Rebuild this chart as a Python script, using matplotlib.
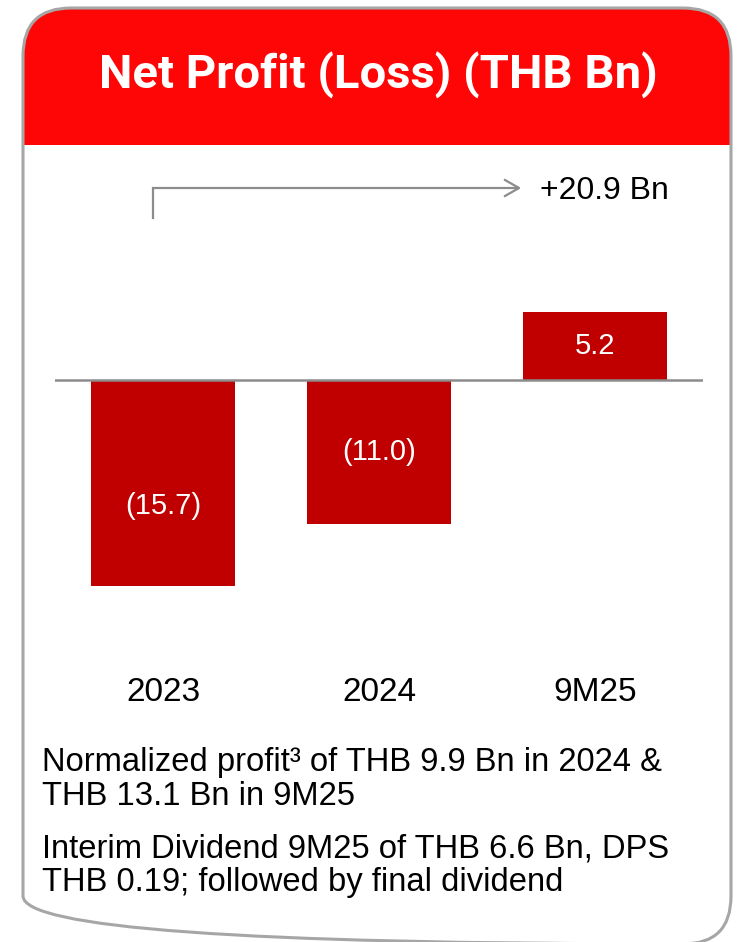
import matplotlib.pyplot as plt
from matplotlib.patches import FancyBboxPatch, Rectangle

# data
periods = ['2023', '2024', '9M25']
net_profit = [-15.7, -11.0, 5.2]
bar_labels = ['(15.7)', '(11.0)', '5.2']
change_label = '+20.9 Bn'
title = 'Net Profit (Loss) (THB Bn)'
note_lines = ['Normalized profit\u00b3 of THB 9.9 Bn in 2024 &',
              'THB 13.1 Bn in 9M25',
              'Interim Dividend 9M25 of THB 6.6 Bn, DPS',
              'THB 0.19; followed by final dividend']

W, H = 739, 942
BAR = '#C00000'
RED = '#FF0606'
GREY = '#8C8C8C'
BODY = ['Liberation Sans', 'DejaVu Sans']

plt.rcParams['font.family'] = BODY

fig = plt.figure(figsize=(W / 100, H / 100), dpi=100)

# background / card, in pixel coordinates
bg = fig.add_axes([0, 0, 1, 1], zorder=0)
bg.set_xlim(0, W)
bg.set_ylim(H, 0)
bg.axis('off')

card = FancyBboxPatch((23, 8), 708, 936, boxstyle='round,pad=0,rounding_size=48',
                      facecolor='white', edgecolor='none')
bg.add_patch(card)
header = Rectangle((0, 0), W, 145, facecolor=RED, edgecolor='none')
bg.add_patch(header)
header.set_clip_path(card)
border = FancyBboxPatch((23, 8), 708, 936, boxstyle='round,pad=0,rounding_size=48',
                        facecolor='none', edgecolor='#A6A6A6', lw=2.2, zorder=5)
bg.add_patch(border)

bg.text(378, 75, title, color='white', fontsize=34, fontweight='bold',
        family=['Roboto', 'DejaVu Sans'], ha='center', va='center')

# change bracket
bg.plot([153, 153, 518], [218, 188, 188], color=GREY, lw=1.6, solid_joinstyle='miter')
bg.plot([505, 519, 505], [180, 188, 196], color=GREY, lw=1.6)
bg.text(540, 191, change_label, fontsize=23, color='black', ha='left', va='center')

# notes
for line, yb in zip(note_lines, [771, 805, 857, 891]):
    bg.text(42, yb, line, fontsize=23.6, color='black', ha='left', va='baseline')

# chart
left, right = 55, 703
top, bottom = 290, 660
ax = fig.add_axes([left / W, 1 - bottom / H, (right - left) / W, (bottom - top) / H],
                  zorder=1)
ax.patch.set_alpha(0)
scale = 13.1  # px per unit
ax.set_xlim(-0.5, 2.5)
ax.set_ylim(-(bottom - 380) / scale, (380 - top) / scale)

x = range(len(periods))
ax.bar(x, net_profit, width=0.667, color=BAR, zorder=2)
ax.axhline(0, color=GREY, lw=1.8, zorder=3)
label_shift = [-1.8, 0, 0]
for i, v in enumerate(net_profit):
    ax.text(i, v / 2 + label_shift[i], bar_labels[i], color='white', fontsize=21,
            ha='center', va='center', zorder=4)

ax.set_xticks(list(x), periods, fontsize=24)
ax.tick_params(axis='x', length=0, pad=12)
ax.set_yticks([])
for s in ax.spines.values():
    s.set_visible(False)

fig.savefig('out.png', dpi=100)
